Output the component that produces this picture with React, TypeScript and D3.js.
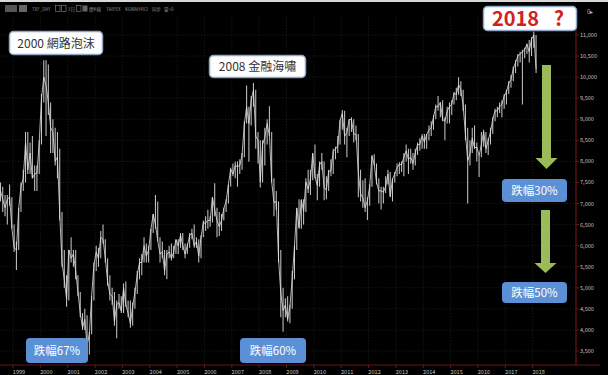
import React from "react";
import * as d3 from "d3";

const W = 608;
const H = 375;

// monthly bars start July 1998
const startYear = 1998;
const startMonth = 7;

const yearLabels = [1999, 2000, 2001, 2002, 2003, 2004, 2005, 2006, 2007, 2008, 2009, 2010, 2011, 2012, 2013, 2014, 2015, 2016, 2017, 2018];
const priceTicks = [3500, 4000, 4500, 5000, 5500, 6000, 6500, 7000, 7500, 8000, 8500, 9000, 9500, 10000, 10500, 11000];

const high = [
  7500, 7400, 7200, 7200, 7450, 7150,
  6500, 6100, 6900, 7500, 7800, 8700, 8700, 8450, 8600, 7900, 7900, 8500,
  9600, 10400, 10400, 10300, 9400, 9000, 8800, 8700, 8300, 6800, 5900, 5300,
  5900, 6200, 5900, 5900, 5300, 4900, 4400, 4500, 4350, 3950, 4800, 5600,
  6000, 5950, 6350, 6500, 6150, 5700, 5300, 5000, 4900, 4700, 4850, 4800,
  5100, 5150, 4700, 4700, 4650, 5000, 5400, 5700, 5800, 6200, 6050, 6000,
  6400, 6750, 7200, 7050, 6200, 6100, 5900, 5900, 6000, 6050, 6000, 6150,
  6150, 6300, 6300, 6050, 6050, 6300, 6400, 6500, 6200, 6150, 6250, 6600,
  6700, 6850, 6700, 7150, 7480, 6900, 6800, 6750, 6900, 7100, 7450, 7850,
  7950, 8000, 8000, 8050, 8200, 8950, 9800, 9300, 9550, 9860, 9700, 8700,
  8500, 8500, 8800, 9000, 9310, 8700, 7600, 7300, 7050, 5900, 5000, 4750,
  4800, 4600, 5400, 6000, 6900, 7100, 7100, 7100, 7600, 7800, 7800, 8200,
  8400, 7700, 8000, 8200, 8000, 7650, 7800, 8050, 8300, 8350, 8600, 8990,
  9220, 9200, 8800, 9000, 9050, 9000, 8850, 8650, 7800, 7550, 7600, 7150,
  7450, 8150, 8170, 7950, 7600, 7400, 7400, 7650, 7800, 7750, 7600, 7750,
  7950, 7980, 8000, 8200, 8400, 8300, 8300, 8200, 8300, 8450, 8550, 8650,
  8650, 8650, 8850, 8950, 9100, 9350, 9550, 9400, 9450, 9050, 9300, 9400,
  9450, 9650, 9750, 10000, 9900, 9700, 9350, 8800, 8500, 8800, 8850, 8450,
  8150, 8700, 8750, 8700, 8550, 8800, 9050, 9250, 9300, 9400, 9450, 9600,
  9700, 9900, 10050, 10250, 10400, 10550, 10600, 10650, 10700, 10800, 10880, 10950,
  11080, 11000,
];

const low = [
  7050, 6800, 6700, 6500, 6950, 6400,
  5850, 5420, 5900, 6800, 7300, 7500, 7700, 7700, 7600, 7300, 7300, 7700,
  8400, 9400, 8600, 9100, 8200, 8200, 7900, 7600, 6600, 5500, 5000, 4550,
  4700, 5600, 5500, 5200, 4800, 4300, 4000, 4000, 3500, 3410, 3900, 4700,
  5400, 5500, 5700, 6050, 5600, 5050, 4700, 4600, 4100, 3800, 4500, 4400,
  4400, 4550, 4300, 4050, 4100, 4500, 4850, 5200, 5300, 5600, 5600, 5600,
  5900, 6300, 6400, 6100, 5600, 5700, 5300, 5200, 5700, 5650, 5700, 5800,
  5800, 5950, 5900, 5700, 5800, 5950, 6150, 5950, 5950, 5600, 5700, 6200,
  6350, 6400, 6450, 6550, 6700, 6200, 6230, 6350, 6600, 6800, 7000, 7400,
  7650, 7600, 7400, 7700, 7800, 8100, 8900, 7990, 8850, 9300, 8300, 7950,
  7380, 7500, 7900, 8400, 8600, 7500, 6700, 6850, 5600, 4300, 3955, 4300,
  4200, 4160, 4500, 5200, 5900, 6400, 6400, 6500, 6800, 7250, 7200, 7550,
  7600, 7080, 7400, 7800, 7080, 7100, 7300, 7650, 7700, 8050, 8200, 8400,
  8750, 8400, 8100, 8600, 8700, 8450, 8500, 7150, 7050, 6900, 6800, 6610,
  6950, 7400, 7900, 7450, 7000, 6860, 7000, 7250, 7450, 7150, 7050, 7500,
  7650, 7700, 7750, 7650, 8000, 7700, 7950, 7800, 7900, 8150, 8250, 8300,
  8300, 8300, 8500, 8600, 8750, 9000, 9200, 9050, 8950, 8500, 8900, 8900,
  9100, 9350, 9450, 9580, 9550, 9200, 8500, 7000, 7900, 8200, 8300, 8000,
  7630, 8100, 8350, 8200, 8150, 8400, 8650, 8950, 9050, 9150, 9050, 9250,
  9350, 9600, 9750, 9900, 10100, 10250, 10350, 9350, 10450, 10550, 10350, 10500,
  10700, 10100,
];

const close = [
  7300, 7100, 6900, 7100, 7150, 6420,
  5950, 5900, 6880, 7400, 7600, 8450, 7800, 8200, 7600, 7700, 7720, 8450,
  9500, 10000, 9800, 9400, 8800, 8700, 8000, 8100, 6750, 5600, 5200, 4740,
  5900, 5700, 5800, 5400, 4900, 4400, 4050, 4250, 3630, 3900, 4800, 5550,
  5850, 5700, 6200, 6150, 5700, 5150, 4850, 4800, 4200, 4600, 4650, 4450,
  5000, 4600, 4400, 4150, 4550, 4900, 5300, 5600, 5600, 6000, 5750, 5900,
  6375, 6750, 6500, 6120, 5800, 5850, 5400, 5800, 5850, 5700, 5850, 6140,
  5990, 6250, 6000, 5800, 6000, 6240, 6300, 6000, 6100, 5750, 6200, 6550,
  6530, 6600, 6600, 7150, 6850, 6600, 6450, 6600, 6880, 7050, 7450, 7820,
  7700, 7900, 7880, 7900, 8150, 8880, 9300, 8900, 9450, 9700, 8600, 8500,
  7520, 8400, 8570, 8900, 8620, 7520, 7020, 7050, 5700, 4870, 4460, 4590,
  4250, 4560, 5210, 5990, 6890, 6430, 7080, 6820, 7510, 7340, 7580, 8190,
  7640, 7430, 7920, 8000, 7370, 7330, 7760, 7780, 8240, 8290, 8370, 8970,
  9140, 8600, 8680, 9000, 8990, 8650, 8640, 7740, 7230, 7140, 6900, 7070,
  7410, 8120, 7930, 7500, 7300, 7300, 7270, 7400, 7700, 7170, 7580, 7700,
  7850, 7930, 7920, 8100, 8250, 8050, 8100, 7950, 8200, 8400, 8400, 8600,
  8460, 8640, 8750, 8800, 9050, 9300, 9300, 9400, 9000, 8950, 9200, 9300,
  9360, 9620, 9590, 9820, 9700, 9320, 8660, 8020, 8180, 8550, 8320, 8340,
  8140, 8400, 8700, 8300, 8500, 8700, 9000, 9200, 9200, 9300, 9350, 9550,
  9650, 9850, 9950, 10200, 10350, 10500, 10550, 10600, 10650, 10780, 10600, 10900,
  11000, 10200,
];

const toolbarItems = ["TXF_DAY", "1日", "週K線", "TAIPEX", "K6WAH4V2", "同步", "量+0"];

const FONT = "'Noto Sans CJK TC', 'Noto Sans', sans-serif";
const AXIS_RED = "#6e1414";
const BLUE = "#5b8fd6";
const GREEN = "#9bbb59";

function WhiteBox({ x, y, w, h, children }: any) {
  return (
    <g>
      <rect x={x} y={y} width={w} height={h} rx={4} fill="#ffffff" stroke="#8fa6c8" strokeWidth={1.5} />
      {children}
    </g>
  );
}

function BlueBox({ x, y, w, h, text }: any) {
  return (
    <g>
      <rect x={x} y={y} width={w} height={h} rx={4} fill={BLUE} />
      <text x={x + w / 2} y={y + h / 2 + 4} textAnchor="middle" fontSize={11.5} fill="#ffffff" fontFamily={FONT}>
        {text}
      </text>
    </g>
  );
}

function Arrow({ cx, y0, y1, tip }: any) {
  return (
    <g fill={GREEN}>
      <rect x={cx - 4.5} y={y0} width={9} height={y1 - y0} />
      <polygon points={`${cx - 11},${y1} ${cx + 11},${y1} ${cx},${tip}`} />
    </g>
  );
}

export default function App() {
  const x = d3.scaleLinear().domain([1999, 2018]).range([13, 13 + 27.35 * 19]);
  const y = d3.scaleLinear().domain([3500, 11000]).range([351, 35]);
  const tOf = (i: number) => startYear + (startMonth - 1 + i + 0.5) / 12;

  const line = d3
    .line<number>()
    .x((_, i) => x(tOf(i)))
    .y((d) => y(d));

  const plotRight = 576;
  const axisY = 365;

  // toolbar layout (x positions of each label)
  const tbPositions = [32, 68, 89, 106, 125, 152, 164];

  return (
    <svg width={W} height={H} style={{ position: "fixed", left: 0, top: 0, background: "#000" }}>
      <defs>
        <clipPath id="plot">
          <rect x={0} y={14} width={plotRight} height={axisY - 14} />
        </clipPath>
      </defs>
      <rect x={0} y={0} width={W} height={H} fill="#000" />
      <rect x={0} y={0} width={W} height={2} fill="#d8d8d8" />

      {/* toolbar */}
      <g fontFamily={FONT} fontSize={4.5} fill="#8a8a8a">
        <rect x={5} y={5} width={12} height={7} fill="#555" />
        <rect x={19} y={5} width={8} height={7} fill="#666" />
        <rect x={55.5} y={5.5} width={4.5} height={6} fill="none" stroke="#888" strokeWidth={0.6} />
        <rect x={61.5} y={5.5} width={4.5} height={6} fill="none" stroke="#888" strokeWidth={0.6} />
        <rect x={76.5} y={5.5} width={4.5} height={6} fill="none" stroke="#888" strokeWidth={0.6} />
        <rect x={82.5} y={5.5} width={5} height={6} fill="#666" />
        {toolbarItems.map((t, i) => (
          <text key={t} x={tbPositions[i]} y={11}>{t}</text>
        ))}
        <text x={587} y={14} fontSize={6} fill="#bbb">0▸</text>
      </g>

      {/* grid */}
      <g stroke="#242424" strokeWidth={0.6} strokeDasharray="1.5,1.5">
        {priceTicks.map((p) => (
          <line key={p} x1={0} x2={plotRight} y1={y(p)} y2={y(p)} />
        ))}
        {yearLabels.map((yr) => (
          <line key={yr} x1={x(yr)} x2={x(yr)} y1={16} y2={axisY} />
        ))}
      </g>

      {/* price bars */}
      <g clipPath="url(#plot)">
        {high.map((h, i) => (
          <line key={i} x1={x(tOf(i))} x2={x(tOf(i))} y1={y(h)} y2={y(low[i])} stroke="#c4c4c4" strokeWidth={1.05} />
        ))}
        <path d={line(close) || ""} fill="none" stroke="#e2e2e2" strokeWidth={0.8} />
      </g>

      {/* axes */}
      <line x1={plotRight} x2={plotRight} y1={16} y2={axisY} stroke={AXIS_RED} strokeWidth={1.2} />
      <line x1={0} x2={600} y1={axisY} y2={axisY} stroke={AXIS_RED} strokeWidth={1.2} />
      <g fontFamily={FONT} fontSize={5.6} fill="#c0c0c0">
        {priceTicks.map((p) => (
          <g key={p}>
            <line x1={plotRight} x2={plotRight + 3} y1={y(p)} y2={y(p)} stroke={AXIS_RED} />
            <text x={plotRight + 4} y={y(p) + 2}>{d3.format(",")(p)}</text>
          </g>
        ))}
        {yearLabels.map((yr) => (
          <g key={yr}>
            <line x1={x(yr)} x2={x(yr)} y1={axisY} y2={axisY + 3} stroke={AXIS_RED} />
            <text x={x(yr) + 6} y={374} textAnchor="middle">{yr}</text>
          </g>
        ))}
      </g>

      {/* annotations */}
      <WhiteBox x={9.5} y={31.5} w={93} h={23}>
        <text x={56} y={47.5} textAnchor="middle" fontSize={12} fill="#333" fontFamily={FONT}>2000 網路泡沫</text>
      </WhiteBox>
      <WhiteBox x={209.5} y={55.5} w={96} h={22}>
        <text x={257.5} y={71} textAnchor="middle" fontSize={12} fill="#333" fontFamily={FONT}>2008 金融海嘯</text>
      </WhiteBox>
      <WhiteBox x={483.5} y={6.5} w={93} h={24}>
        <text x={515.5} y={26} textAnchor="middle" fontSize={20} fontWeight="bold" fill="#d0211f" fontFamily={FONT}>2018</text>
        <text x={559} y={26} textAnchor="middle" fontSize={20} fontWeight="bold" fill="#d0211f" fontFamily={FONT}>?</text>
      </WhiteBox>

      <Arrow cx={546.5} y0={65} y1={158} tip={169} />
      <Arrow cx={545.5} y0={210} y1={263} tip={273} />

      <BlueBox x={26} y={338} w={62} h={25} text="跌幅67%" />
      <BlueBox x={240} y={338} w={66} h={25} text="跌幅60%" />
      <BlueBox x={502} y={179} w={65} h={23} text="跌幅30%" />
      <BlueBox x={502} y={282} w={65} h={21} text="跌幅50%" />
    </svg>
  );
}
